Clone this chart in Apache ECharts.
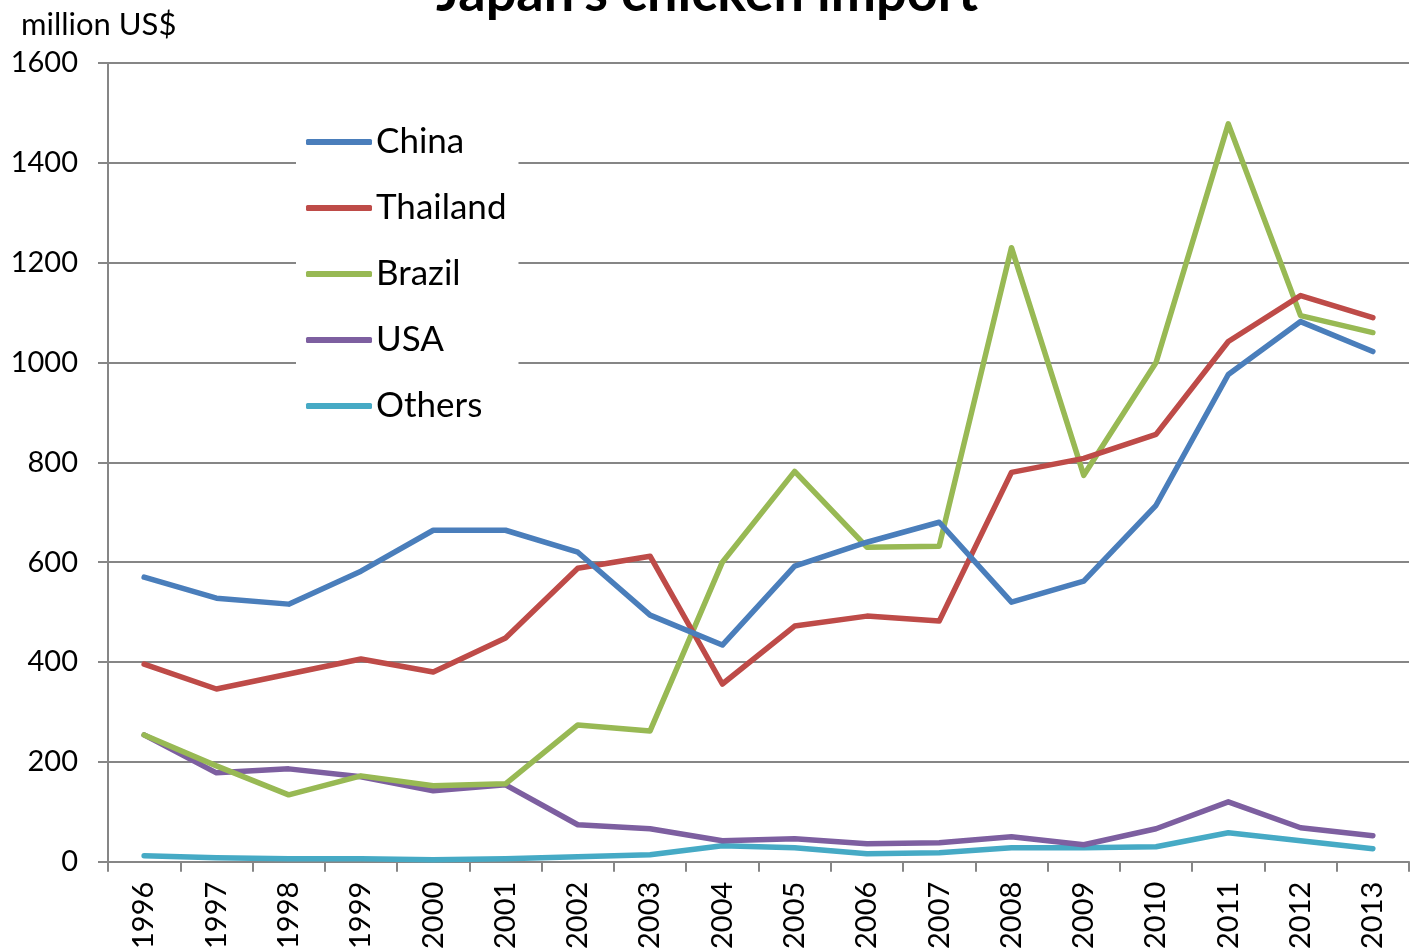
<!DOCTYPE html>
<html>
<head>
<meta charset="utf-8">
<script src="https://cdn.jsdelivr.net/npm/echarts@6/dist/echarts.min.js"></script>
<style>
  html, body { margin: 0; padding: 0; background: #fff; }
  #chart { width: 1414px; height: 952px; }
</style>
</head>
<body>
<div id="chart"></div>
<script>
// 数据 (million US$)
const years = ['1996', '1997', '1998', '1999', '2000', '2001', '2002', '2003', '2004',
  '2005', '2006', '2007', '2008', '2009', '2010', '2011', '2012', '2013'];
const china = [570, 528, 516, 582, 664, 664, 620, 494, 434, 592, 640, 680, 520, 562, 714, 976, 1082, 1022];
const thailand = [396, 346, 376, 406, 380, 448, 588, 612, 356, 472, 492, 482, 780, 808, 856, 1042, 1134, 1090];
const brazil = [254, 192, 134, 172, 152, 156, 274, 262, 600, 782, 630, 632, 1230, 774, 1000, 1478, 1094, 1060];
const usa = [254, 178, 186, 170, 142, 154, 74, 66, 42, 46, 36, 38, 50, 34, 66, 120, 68, 52];
const others = [12, 8, 6, 6, 4, 6, 10, 14, 32, 28, 16, 18, 28, 28, 30, 58, 42, 26];

const seriesNames = ['China', 'Thailand', 'Brazil', 'USA', 'Others'];
const seriesData = [china, thailand, brazil, usa, others];
const colors = ['#4a7ebb', '#be4b48', '#98b954', '#7d5fa0', '#46aac5'];

const font = 'Lato, "Open Sans", sans-serif';
const chart = echarts.init(document.getElementById('chart'));

const option = {
  animation: false,
  color: colors,
  textStyle: { fontFamily: font },
  title: [
    {
      text: "Japan's chicken import",
      left: 'center',
      top: -38,
      textStyle: { fontSize: 54, fontWeight: 'bold', color: '#000', fontFamily: font }
    },
    {
      text: 'million US$',
      left: 16,
      top: 4,
      textStyle: { fontSize: 31, fontWeight: 'normal', color: '#000', fontFamily: font }
    }
  ],
  legend: {
    orient: 'vertical',
    left: 296,
    top: 110,
    backgroundColor: '#fff',
    padding: [12, 12, 12, 10],
    itemWidth: 66,
    itemHeight: 6,
    itemGap: 26,
    icon: 'roundRect',
    textStyle: { fontSize: 35, color: '#000', lineHeight: 40, fontFamily: font, padding: [0, 0, 0, -1] },
    data: seriesNames
  },
  grid: { left: 108, right: 5, top: 63, bottom: 89, containLabel: false },
  xAxis: {
    type: 'category',
    data: years,
    boundaryGap: true,
    axisLine: { lineStyle: { color: '#868686', width: 2 } },
    axisTick: { show: true, interval: 0, length: 10, lineStyle: { color: '#868686', width: 2 } },
    axisLabel: { interval: 0, rotate: 90, fontSize: 29, color: '#000', margin: 20, fontFamily: font }
  },
  yAxis: {
    type: 'value',
    min: 0,
    max: 1600,
    interval: 200,
    axisLine: { show: true, lineStyle: { color: '#868686', width: 2 } },
    axisTick: { show: true, length: 10, lineStyle: { color: '#868686', width: 2 } },
    axisLabel: { fontSize: 29, color: '#000', margin: 30, fontFamily: font, formatter: v => String(v) },
    splitLine: { show: true, lineStyle: { color: '#868686', width: 2 } }
  },
  series: seriesNames.map((name, i) => ({
    name: name,
    type: 'line',
    data: seriesData[i],
    symbol: 'none',
    z: 10 - i,
    lineStyle: { width: 5.5, color: colors[i], cap: 'round', join: 'round' },
    itemStyle: { color: colors[i] }
  }))
};

chart.setOption(option);
</script>
</body>
</html>
